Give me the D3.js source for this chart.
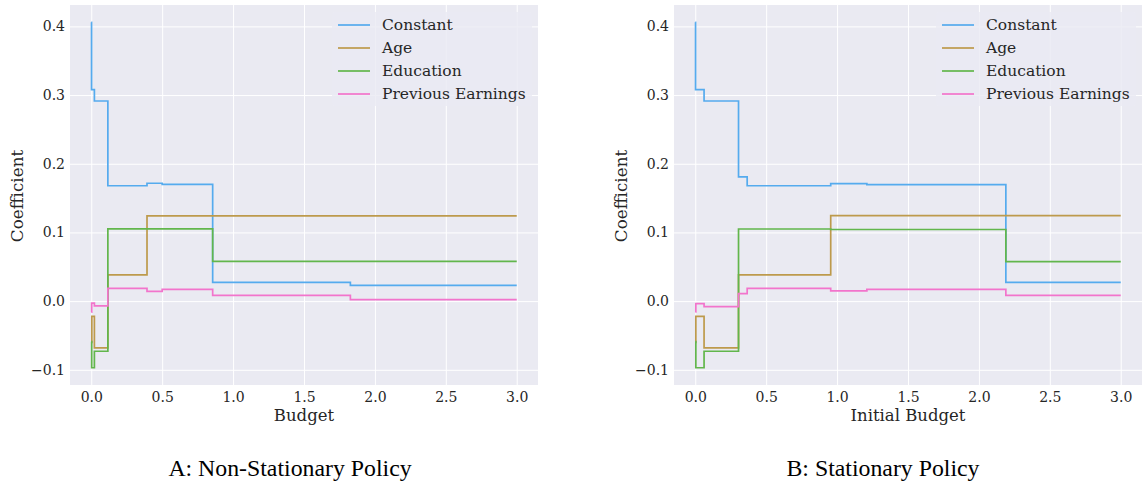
<!DOCTYPE html>
<html>
<head>
<meta charset="utf-8">
<script src="https://cdn.jsdelivr.net/npm/d3@7"></script>
<style>
  html, body { margin: 0; padding: 0; background: #ffffff; }
  svg { display: block; }
</style>
</head>
<body>
<svg id="chart" width="1143" height="487"></svg>
<script>
// ---------------- data ----------------
const seriesNames = ["Constant", "Age", "Education", "Previous Earnings"];
const xTicks = [0.0, 0.5, 1.0, 1.5, 2.0, 2.5, 3.0];
const yTicks = [-0.1, 0.0, 0.1, 0.2, 0.3, 0.4];

// Panel A: Non-Stationary Policy (step-after breakpoints)
const A_constant_x = [0, 0.002, 0.022, 0.117, 0.393, 0.5, 0.856, 1.827, 3.0];
const A_constant_y = [0.406, 0.308, 0.2914, 0.168, 0.1716, 0.170, 0.0273, 0.0229, 0.0229];
const A_age_x = [0, 0.004, 0.022, 0.117, 0.393, 3.0];
const A_age_y = [-0.060, -0.0221, -0.068, 0.0383, 0.1241, 0.1241];
const A_edu_x = [0, 0.003, 0.022, 0.117, 0.856, 3.0];
const A_edu_y = [-0.059, -0.097, -0.073, 0.1052, 0.0578, 0.0578];
const A_prev_x = [0, 0.003, 0.022, 0.117, 0.393, 0.5, 0.856, 1.827, 3.0];
const A_prev_y = [-0.016, -0.003, -0.007, 0.0186, 0.0142, 0.0171, 0.0084, 0.0022, 0.0022];

// Panel B: Stationary Policy
const B_constant_x = [0, 0.002, 0.062, 0.305, 0.366, 0.955, 1.21, 2.19, 3.0];
const B_constant_y = [0.406, 0.308, 0.2914, 0.181, 0.168, 0.171, 0.1695, 0.0273, 0.0273];
const B_age_x = [0, 0.004, 0.062, 0.305, 0.955, 3.0];
const B_age_y = [-0.060, -0.0221, -0.068, 0.0383, 0.1245, 0.1245];
const B_edu_x = [0, 0.004, 0.062, 0.305, 0.955, 2.19, 3.0];
const B_edu_y = [-0.059, -0.097, -0.073, 0.105, 0.1043, 0.0575, 0.0575];
const B_prev_x = [0, 0.004, 0.062, 0.305, 0.366, 0.955, 1.21, 2.19, 3.0];
const B_prev_y = [-0.0157, -0.0036, -0.008, 0.0109, 0.0186, 0.0148, 0.0171, 0.0084, 0.0084];

const colors = ["#55abee", "#bd9a4c", "#62b64c", "#f274cc"];

const panels = [
  { left: 70, xLabel: "Budget", caption: "A: Non-Stationary Policy", captionX: 290,
    series: [[A_constant_x, A_constant_y], [A_age_x, A_age_y], [A_edu_x, A_edu_y], [A_prev_x, A_prev_y]] },
  { left: 674, xLabel: "Initial Budget", caption: "B: Stationary Policy", captionX: 883,
    series: [[B_constant_x, B_constant_y], [B_age_x, B_age_y], [B_edu_x, B_edu_y], [B_prev_x, B_prev_y]] }
];

// ---------------- drawing ----------------
const svg = d3.select("#chart");
const PW = 468, PTOP = 5, PH = 380;
const serif = "'DejaVu Serif', serif";

function padded(lo, hi) { const m = (hi - lo) * 0.05; return [lo - m, hi + m]; }

panels.forEach(p => {
  const allX = p.series.flatMap(s => s[0]);
  const allY = p.series.flatMap(s => s[1]);
  const x = d3.scaleLinear().domain(padded(d3.min(allX), d3.max(allX))).range([p.left, p.left + PW]);
  const y = d3.scaleLinear().domain(padded(d3.min(allY), d3.max(allY))).range([PTOP + PH, PTOP]);

  const g = svg.append("g");
  g.append("rect").attr("x", p.left).attr("y", PTOP).attr("width", PW).attr("height", PH)
    .attr("fill", "#eaeaf2");

  // grid via axes
  const gx = g.append("g").attr("transform", `translate(0,${PTOP + PH})`)
    .call(d3.axisBottom(x).tickValues(xTicks).tickSize(0).tickFormat(d3.format(".1f")));
  gx.select(".domain").remove();
  gx.selectAll(".tick line").attr("stroke", "#ffffff").attr("stroke-width", 1).attr("y2", -PH);
  gx.selectAll(".tick text").attr("y", 7).attr("dy", "0.71em")
    .attr("font-family", serif).attr("font-size", "14px").attr("fill", "#262626");

  const gy = g.append("g").attr("transform", `translate(${p.left},0)`)
    .call(d3.axisLeft(y).tickValues(yTicks).tickSize(0)
      .tickFormat(d => d3.format(".1f")(d).replace("-", "\u2212")));
  gy.select(".domain").remove();
  gy.selectAll(".tick line").attr("stroke", "#ffffff").attr("stroke-width", 1).attr("x2", PW);
  gy.selectAll(".tick text").attr("x", -5)
    .attr("font-family", serif).attr("font-size", "14px").attr("fill", "#262626");

  // lines
  const line = d3.line().x(d => x(d[0])).y(d => y(d[1])).curve(d3.curveStepAfter);
  p.series.forEach((s, i) => {
    const pts = s[0].map((v, k) => [v, s[1][k]]);
    g.append("path").datum(pts).attr("d", line).attr("fill", "none")
      .attr("stroke", colors[i]).attr("stroke-width", 1.7);
  });

  // legend
  const lg = g.append("g");
  lg.append("rect").attr("x", p.left + 262).attr("y", 12).attr("width", 200).attr("height", 94)
    .attr("fill", "#eaeaf2").attr("fill-opacity", 0.8).attr("rx", 3);
  seriesNames.forEach((n, i) => {
    const ly = 25 + i * 23;
    lg.append("line").attr("x1", p.left + 268).attr("x2", p.left + 300)
      .attr("y1", ly).attr("y2", ly).attr("stroke", colors[i]).attr("stroke-width", 1.7);
    lg.append("text").attr("x", p.left + 312).attr("y", ly).attr("dy", "0.35em")
      .attr("font-family", serif).attr("font-size", "15.5px").attr("fill", "#262626").text(n);
  });

  // axis labels
  g.append("text").attr("x", p.left + PW / 2).attr("y", 421).attr("text-anchor", "middle")
    .attr("font-family", serif).attr("font-size", "16.5px").attr("fill", "#262626").text(p.xLabel);
  g.append("text").attr("transform", `translate(${p.left - 47},${PTOP + PH / 2 + 1}) rotate(-90)`)
    .attr("text-anchor", "middle")
    .attr("font-family", serif).attr("font-size", "16.8px").attr("fill", "#262626").text("Coefficient");

  // caption
  svg.append("text").attr("x", p.captionX).attr("y", 476).attr("text-anchor", "middle")
    .attr("font-family", "'Liberation Serif', 'Times New Roman', serif").attr("font-size", "23.8px")
    .attr("fill", "#000000").text(p.caption);
});
</script>
</body>
</html>
